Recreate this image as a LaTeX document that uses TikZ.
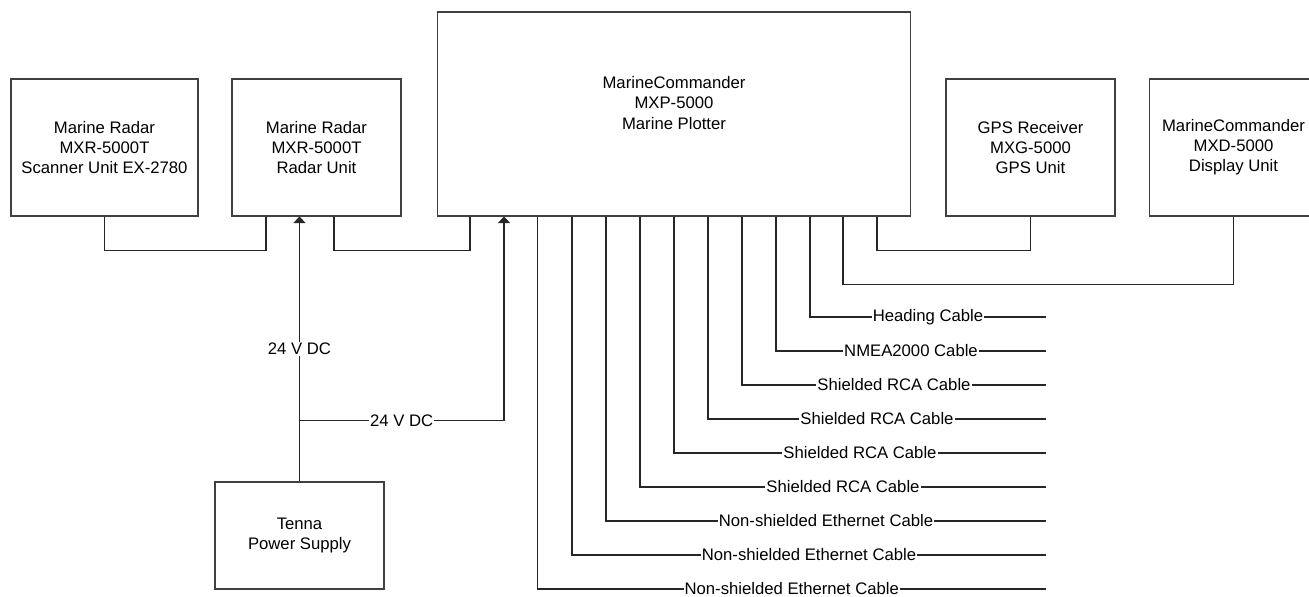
\documentclass[tikz,border=0pt]{standalone}
\usepackage{fontspec}
\setmainfont{Liberation Sans}
\usetikzlibrary{arrows.meta,calc}

\begin{document}
\begin{tikzpicture}[x=0.02cm, y=-0.02cm,
    every node/.style={font=\fontsize{9.5}{11.4}\selectfont},
    unit/.style={draw=black!75, line width=0.6pt, align=center, minimum height=2.74cm},
    wire/.style={draw=black!85, line width=0.6pt},
    lbl/.style={fill=white, inner sep=0.6pt},
    pwr/.style={wire, -{Triangle[width=0.24cm, length=0.13cm]}}]
  \useasboundingbox (0,0) rectangle (1309,596);
  % units
  \node[unit, minimum width=3.74cm] (scan) at (104.5,147.5) {Marine Radar\\MXR-5000T\\Scanner Unit EX-2780};
  \node[unit, minimum width=3.38cm] (radar) at (316.5,147.5) {Marine Radar\\MXR-5000T\\Radar Unit};
  \node[unit, minimum width=9.48cm, minimum height=4.08cm] (plotter) at (674,114) {};
  \node[align=center] (plottertxt) at ($(plotter.center)+(0,-11)$) {MarineCommander\\MXP-5000\\Marine Plotter};
  \node[unit, minimum width=3.38cm] (gps) at (1030.5,147.5) {GPS Receiver\\MXG-5000\\GPS Unit};
  \node[unit, minimum width=3.38cm] (disp) at (1233.5,147.5) {MarineCommander\\MXD-5000\\Display Unit};
  \node[unit, minimum width=3.38cm, minimum height=2.14cm] (psu) at (299.5,535.5) {Tenna\\Power Supply};
  % links between units
  \draw[wire] (scan.south) -- ++(0,34) -| ($(radar.south)+(-50.5,0)$);
  \draw[wire] ($(radar.south)+(17.5,0)$) -- ++(0,34) -| ($(plotter.south)+(-204,0)$);
  \draw[wire] ($(plotter.south)+(203,0)$) -- ++(0,34) -| (gps.south);
  \draw[wire] ($(plotter.south)+(169,0)$) -- ++(0,68) -| (disp.south);
  % power
  \draw[pwr] (psu.north) -- node[lbl]{24 V DC} ($(radar.south)+(-17,0)$);
  \coordinate (tap) at ($(psu.north)+(0,-61)$);
  \draw[pwr] (tap) -| node[lbl, pos=0.25]{24 V DC} ($(plotter.south)+(-170,0)$);
  % cables
  \foreach \dx/\yy/\txt [count=\i] in {136/317/Heading Cable, 102/351/NMEA2000 Cable,
      68/385/Shielded RCA Cable, 34/419/Shielded RCA Cable, 0/453/Shielded RCA Cable,
      -34/487/Shielded RCA Cable, -68/521/Non-shielded Ethernet Cable,
      -102/555/Non-shielded Ethernet Cable, -136.5/589/Non-shielded Ethernet Cable} {
    \coordinate (cab\i) at (1046,\yy);
    \draw[wire] ($(plotter.south)+(\dx,0)$) |- node[lbl, pos=0.75]{\txt} (cab\i);
  }
\end{tikzpicture}
\end{document}
